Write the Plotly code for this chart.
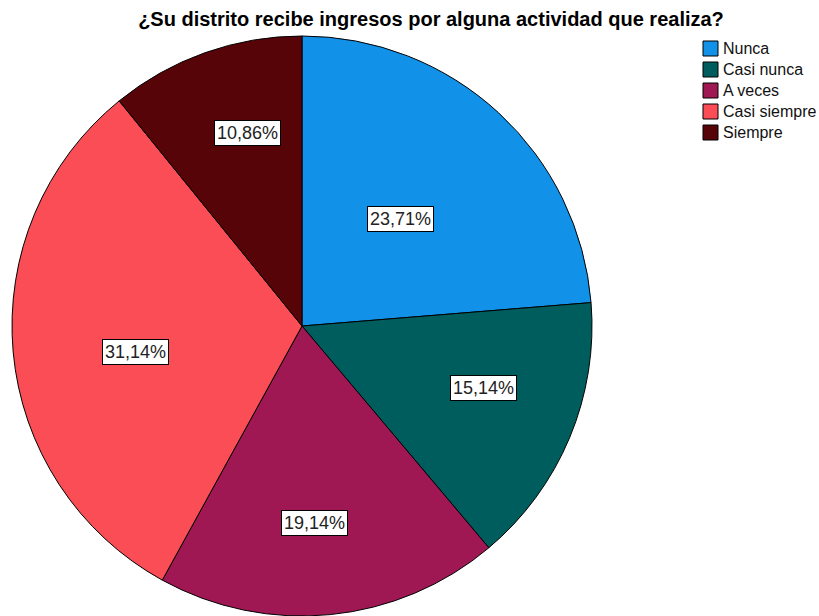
import math
import plotly.graph_objects as go

# Survey responses (counts) and categories
categories = ["Nunca", "Casi nunca", "A veces", "Casi siempre", "Siempre"]
counts = [83, 53, 67, 109, 38]
colors = ["#1192e8", "#005d5d", "#9f1853", "#fa4d56", "#570408"]

W, H = 819, 616
L, R, T, B = 12, 227, 36, 0
plot_w, plot_h = W - L - R, H - T - B


def px_to_paper(px, py):
    return (px - L) / plot_w, (H - B - py) / plot_h


fig = go.Figure(go.Pie(
    labels=categories,
    values=counts,
    sort=False,
    direction="clockwise",
    rotation=0,
    marker=dict(colors=colors, line=dict(color="#000000", width=1)),
    textinfo="none",
    hoverinfo="label+percent",
    domain=dict(x=[0, 1], y=[0, 1]),
    showlegend=False,
))

# Percentage labels in white boxes, placed near each slice's mid-angle
# (radius as a fraction of the pie radius, small angular nudge in degrees)
label_radius = [0.50, 0.66, 0.68, 0.58, 0.69]
label_nudge = [0.0, -3.7, 1.9, -3.8, 3.8]
total = sum(counts)
cum = 0
annotations = []
for i, c in enumerate(counts):
    mid = (cum + c / 2) / total
    cum += c
    ang = 2 * math.pi * mid + math.radians(label_nudge[i])
    r = label_radius[i] * 0.5
    x = 0.5 + r * math.sin(ang)
    y = 0.5 + r * math.cos(ang)
    pct = f"{100 * c / total:.2f}%".replace(".", ",")
    annotations.append(dict(
        x=x, y=y, xref="paper", yref="paper", text=pct, showarrow=False,
        xanchor="center", yanchor="middle",
        font=dict(family="Liberation Sans, Arial", size=18, color="#222222"),
        bgcolor="#ffffff", bordercolor="#000000", borderwidth=1, borderpad=2,
    ))

# Legend: colour swatch plus category name for each slice
shapes = []
sw_left, sw_size, row0, row_gap = 703, 15, 48.5, 21
for i, (cat, col) in enumerate(zip(categories, colors)):
    cy = row0 + i * row_gap
    x0, y0 = px_to_paper(sw_left, cy + sw_size / 2)
    x1, y1 = px_to_paper(sw_left + sw_size, cy - sw_size / 2)
    shapes.append(dict(type="rect", xref="paper", yref="paper",
                       x0=x0, y0=y0, x1=x1, y1=y1, fillcolor=col,
                       line=dict(color="#000000", width=1)))
    tx, ty = px_to_paper(sw_left + sw_size + 3, cy)
    annotations.append(dict(
        x=tx, y=ty, xref="paper", yref="paper", text=cat, showarrow=False,
        xanchor="left", yanchor="middle",
        font=dict(family="Liberation Sans, Arial", size=16, color="#111111"),
    ))

fig.update_layout(
    width=W, height=H,
    margin=dict(l=L, r=R, t=T, b=B, autoexpand=False),
    paper_bgcolor="#ffffff",
    plot_bgcolor="#ffffff",
    title=dict(
        text="<b>¿Su distrito recibe ingresos por alguna actividad que realiza?</b>",
        x=431 / W, xanchor="center", y=1 - 19 / H, yanchor="middle",
        xref="container", yref="container",
        font=dict(family="Liberation Sans, Arial", size=20, color="#000000"),
    ),
    annotations=annotations,
    shapes=shapes,
    showlegend=False,
)

fig.write_html("out.html")
